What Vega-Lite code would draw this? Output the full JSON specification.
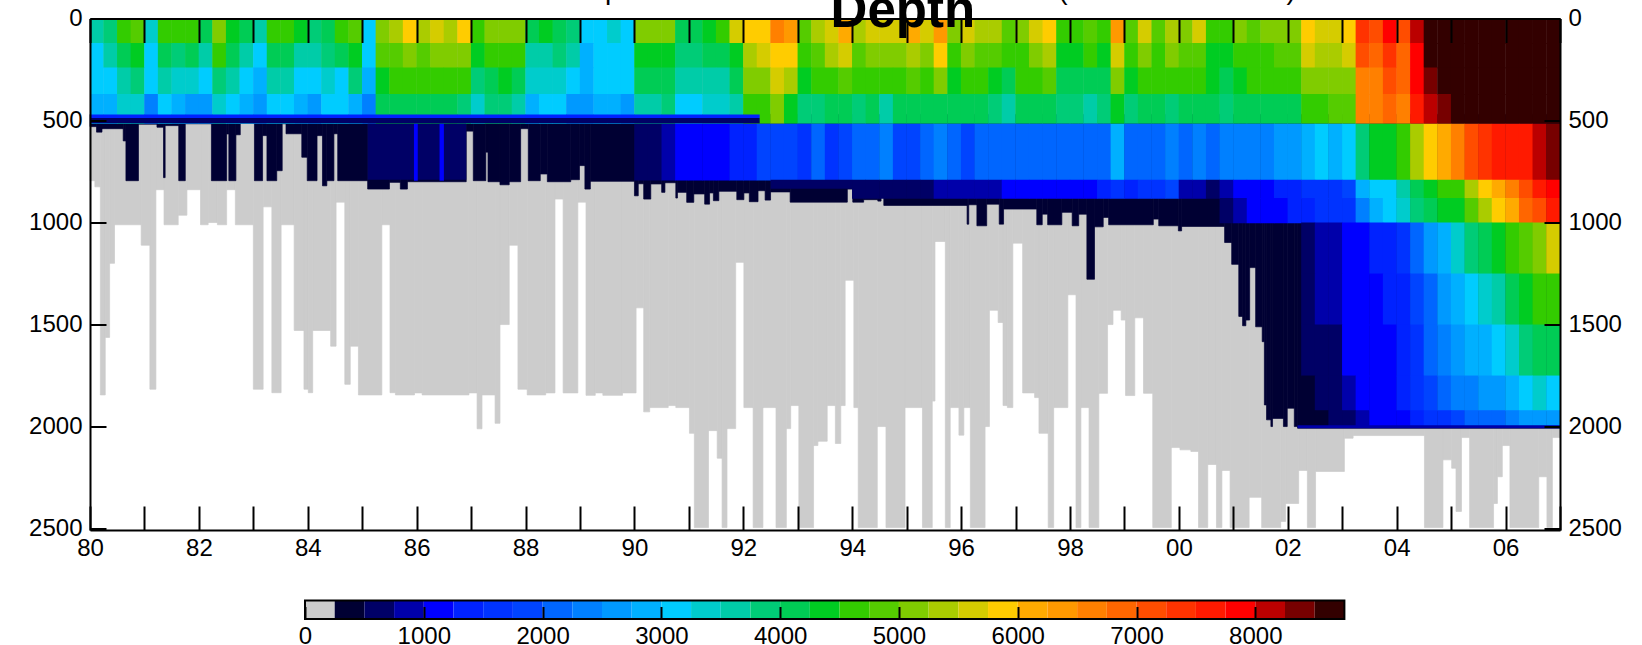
{"$schema":"https://vega.github.io/schema/vega-lite/v6.json","autosize":"none","width":1470,"height":511.5,"padding":{"left":90,"top":18.5,"right":82,"bottom":115},"background":"white","config":{"view":{"stroke":null},"axis":{"grid":false,"domainColor":"black","domainWidth":2,"tickColor":"black","tickWidth":2,"labelColor":"black","labelFont":"Liberation Sans","labelFontSize":24,"labelOverlap":false,"labelFlush":false,"labelBound":false,"title":null}},
"datasets":{
"gray":[{"x":80,"x2":80.09,"d":795},{"x":80.09,"x2":80.19,"d":825},{"x":80.19,"x2":80.28,"d":1845},{"x":80.28,"x2":80.36,"d":1563},{"x":80.36,"x2":80.45,"d":1200},{"x":80.45,"x2":80.94,"d":1011},{"x":80.94,"x2":81.1,"d":1111},{"x":81.1,"x2":81.21,"d":1817},{"x":81.21,"x2":81.36,"d":839},{"x":81.36,"x2":81.62,"d":1011},{"x":81.62,"x2":81.78,"d":964},{"x":81.78,"x2":82.03,"d":839},{"x":82.03,"x2":82.17,"d":1011},{"x":82.17,"x2":82.34,"d":1000},{"x":82.34,"x2":82.51,"d":1011},{"x":82.51,"x2":82.67,"d":839},{"x":82.67,"x2":83,"d":1011},{"x":83,"x2":83.18,"d":1817},{"x":83.18,"x2":83.34,"d":923},{"x":83.34,"x2":83.51,"d":1834},{"x":83.51,"x2":83.75,"d":1011},{"x":83.75,"x2":83.93,"d":1529},{"x":83.93,"x2":84.01,"d":1817},{"x":84.01,"x2":84.09,"d":1834},{"x":84.09,"x2":84.42,"d":1529},{"x":84.42,"x2":84.52,"d":1606},{"x":84.52,"x2":84.68,"d":900},{"x":84.68,"x2":84.78,"d":1793},{"x":84.78,"x2":84.93,"d":1606},{"x":84.93,"x2":85.36,"d":1845},{"x":85.36,"x2":85.51,"d":1011},{"x":85.51,"x2":85.61,"d":1834},{"x":85.61,"x2":85.96,"d":1845},{"x":85.96,"x2":86.1,"d":1835},{"x":86.1,"x2":86.96,"d":1845},{"x":86.96,"x2":87.11,"d":1835},{"x":87.11,"x2":87.2,"d":2011},{"x":87.2,"x2":87.44,"d":1845},{"x":87.44,"x2":87.53,"d":1984},{"x":87.53,"x2":87.7,"d":1500},{"x":87.7,"x2":87.86,"d":1111},{"x":87.86,"x2":88.03,"d":1817},{"x":88.03,"x2":88.37,"d":1845},{"x":88.37,"x2":88.54,"d":1835},{"x":88.54,"x2":88.69,"d":885},{"x":88.69,"x2":88.96,"d":1835},{"x":88.96,"x2":89.11,"d":900},{"x":89.11,"x2":89.28,"d":1847},{"x":89.28,"x2":89.42,"d":1835},{"x":89.42,"x2":89.78,"d":1847},{"x":89.78,"x2":90.03,"d":1835},{"x":90.03,"x2":90.17,"d":1418},{"x":90.17,"x2":90.28,"d":1928},{"x":90.28,"x2":90.62,"d":1907},{"x":90.62,"x2":90.76,"d":1897},{"x":90.76,"x2":91.01,"d":1907},{"x":91.01,"x2":91.1,"d":2033},{"x":91.1,"x2":91.36,"d":2495},{"x":91.36,"x2":91.52,"d":2020},{"x":91.52,"x2":91.61,"d":2155},{"x":91.61,"x2":91.7,"d":2495},{"x":91.7,"x2":91.86,"d":2010},{"x":91.86,"x2":92.01,"d":1195},{"x":92.01,"x2":92.18,"d":1907},{"x":92.18,"x2":92.36,"d":2495},{"x":92.36,"x2":92.6,"d":1907},{"x":92.6,"x2":92.79,"d":2495},{"x":92.79,"x2":92.87,"d":2010},{"x":92.87,"x2":93.02,"d":1897},{"x":93.02,"x2":93.29,"d":2495},{"x":93.29,"x2":93.37,"d":2093},{"x":93.37,"x2":93.54,"d":2072},{"x":93.54,"x2":93.69,"d":1897},{"x":93.69,"x2":93.79,"d":2083},{"x":93.79,"x2":93.87,"d":1897},{"x":93.87,"x2":94.03,"d":1283},{"x":94.03,"x2":94.11,"d":1907},{"x":94.11,"x2":94.46,"d":2495},{"x":94.46,"x2":94.62,"d":2000},{"x":94.62,"x2":94.97,"d":2495},{"x":94.97,"x2":95.29,"d":1907},{"x":95.29,"x2":95.47,"d":2495},{"x":95.47,"x2":95.52,"d":1875},{"x":95.52,"x2":95.71,"d":1093},{"x":95.71,"x2":95.8,"d":2495},{"x":95.8,"x2":95.96,"d":1907},{"x":95.96,"x2":96.05,"d":2042},{"x":96.05,"x2":96.17,"d":1907},{"x":96.17,"x2":96.44,"d":2495},{"x":96.44,"x2":96.52,"d":2000},{"x":96.52,"x2":96.68,"d":1430},{"x":96.68,"x2":96.77,"d":1490},{"x":96.77,"x2":96.85,"d":1897},{"x":96.85,"x2":96.95,"d":1907},{"x":96.95,"x2":97.13,"d":1101},{"x":97.13,"x2":97.35,"d":1835},{"x":97.35,"x2":97.43,"d":1858},{"x":97.43,"x2":97.6,"d":2033},{"x":97.6,"x2":97.7,"d":2495},{"x":97.7,"x2":97.96,"d":1907},{"x":97.96,"x2":98.11,"d":1354},{"x":98.11,"x2":98.2,"d":2495},{"x":98.2,"x2":98.35,"d":1907},{"x":98.35,"x2":98.53,"d":2495},{"x":98.53,"x2":98.69,"d":1837},{"x":98.69,"x2":98.79,"d":1500},{"x":98.79,"x2":98.94,"d":1430},{"x":98.94,"x2":99.02,"d":1478},{"x":99.02,"x2":99.19,"d":1848},{"x":99.19,"x2":99.35,"d":1467},{"x":99.35,"x2":99.52,"d":1837},{"x":99.52,"x2":99.86,"d":2495},{"x":99.86,"x2":100.02,"d":2103},{"x":100.02,"x2":100.22,"d":2114},{"x":100.22,"x2":100.36,"d":2122},{"x":100.36,"x2":100.53,"d":2495},{"x":100.53,"x2":100.69,"d":2186},{"x":100.69,"x2":100.79,"d":2495},{"x":100.79,"x2":100.94,"d":2215},{"x":100.94,"x2":101.29,"d":2495},{"x":101.29,"x2":101.52,"d":2347},{"x":101.52,"x2":101.87,"d":2495},{"x":101.87,"x2":101.96,"d":2465},{"x":101.96,"x2":102.2,"d":2377},{"x":102.2,"x2":102.36,"d":2215},{"x":102.36,"x2":102.51,"d":2495},{"x":102.51,"x2":103.04,"d":2220},{"x":103.04,"x2":103.2,"d":2057},{"x":103.2,"x2":104.51,"d":2044},{"x":104.51,"x2":104.85,"d":2495},{"x":104.85,"x2":105.01,"d":2163},{"x":105.01,"x2":105.09,"d":2204},{"x":105.09,"x2":105.19,"d":2416},{"x":105.19,"x2":105.34,"d":2054},{"x":105.34,"x2":105.78,"d":2495},{"x":105.78,"x2":105.85,"d":2377},{"x":105.85,"x2":105.94,"d":2246},{"x":105.94,"x2":106.08,"d":2093},{"x":106.08,"x2":106.61,"d":2495},{"x":106.61,"x2":106.76,"d":2246},{"x":106.76,"x2":106.86,"d":2495},{"x":106.86,"x2":107,"d":2054}],
"navy":[{"x":80,"x2":80.12,"d":530},{"x":80.12,"x2":80.22,"d":557},{"x":80.22,"x2":80.61,"d":540},{"x":80.61,"x2":80.66,"d":600},{"x":80.66,"x2":80.89,"d":795},{"x":80.89,"x2":81.23,"d":518},{"x":81.23,"x2":81.35,"d":533},{"x":81.35,"x2":81.38,"d":780},{"x":81.38,"x2":81.63,"d":525},{"x":81.63,"x2":81.75,"d":795},{"x":81.75,"x2":82.23,"d":516},{"x":82.23,"x2":82.51,"d":795},{"x":82.51,"x2":82.55,"d":566},{"x":82.55,"x2":82.68,"d":795},{"x":82.68,"x2":82.76,"d":570},{"x":82.76,"x2":83.02,"d":513},{"x":83.02,"x2":83.17,"d":795},{"x":83.17,"x2":83.25,"d":574},{"x":83.25,"x2":83.43,"d":795},{"x":83.43,"x2":83.53,"d":746},{"x":83.53,"x2":83.6,"d":516},{"x":83.6,"x2":83.89,"d":565},{"x":83.89,"x2":83.99,"d":680},{"x":83.99,"x2":84.17,"d":795},{"x":84.17,"x2":84.27,"d":574},{"x":84.27,"x2":84.35,"d":820},{"x":84.35,"x2":84.48,"d":795},{"x":84.48,"x2":84.55,"d":565},{"x":84.55,"x2":85.1,"d":795},{"x":85.1,"x2":85.5,"d":836},{"x":85.5,"x2":85.7,"d":803},{"x":85.7,"x2":85.83,"d":836},{"x":85.83,"x2":86.91,"d":800},{"x":86.91,"x2":87.04,"d":552},{"x":87.04,"x2":87.27,"d":795},{"x":87.27,"x2":87.31,"d":655},{"x":87.31,"x2":87.53,"d":800},{"x":87.53,"x2":87.7,"d":815},{"x":87.7,"x2":87.91,"d":800},{"x":87.91,"x2":88.05,"d":540},{"x":88.05,"x2":88.27,"d":795},{"x":88.27,"x2":88.4,"d":762},{"x":88.4,"x2":88.83,"d":800},{"x":88.83,"x2":88.99,"d":790},{"x":88.99,"x2":89.09,"d":721},{"x":89.09,"x2":89.19,"d":836},{"x":89.19,"x2":90,"d":798},{"x":90,"x2":90.07,"d":869},{"x":90.07,"x2":90.17,"d":810},{"x":90.17,"x2":90.3,"d":885},{"x":90.3,"x2":90.5,"d":811},{"x":90.5,"x2":90.56,"d":852},{"x":90.56,"x2":90.76,"d":805},{"x":90.76,"x2":90.79,"d":880},{"x":90.79,"x2":90.96,"d":852},{"x":90.96,"x2":91.09,"d":901},{"x":91.09,"x2":91.29,"d":860},{"x":91.29,"x2":91.38,"d":910},{"x":91.38,"x2":91.45,"d":855},{"x":91.45,"x2":91.55,"d":893},{"x":91.55,"x2":91.88,"d":847},{"x":91.88,"x2":92.01,"d":888},{"x":92.01,"x2":92.11,"d":855},{"x":92.11,"x2":92.27,"d":898},{"x":92.27,"x2":92.4,"d":844},{"x":92.4,"x2":92.5,"d":890},{"x":92.5,"x2":92.86,"d":850},{"x":92.86,"x2":93.91,"d":900},{"x":93.91,"x2":94.01,"d":836},{"x":94.01,"x2":94.21,"d":900},{"x":94.21,"x2":94.47,"d":888},{"x":94.47,"x2":94.53,"d":895},{"x":94.53,"x2":94.58,"d":803},{"x":94.58,"x2":96.11,"d":916},{"x":96.11,"x2":96.14,"d":1008},{"x":96.14,"x2":96.29,"d":913},{"x":96.29,"x2":96.47,"d":1016},{"x":96.47,"x2":96.7,"d":910},{"x":96.7,"x2":96.78,"d":1008},{"x":96.78,"x2":97.39,"d":934},{"x":97.39,"x2":97.49,"d":1011},{"x":97.49,"x2":97.59,"d":959},{"x":97.59,"x2":97.85,"d":1011},{"x":97.85,"x2":98.04,"d":950},{"x":98.04,"x2":98.16,"d":1016},{"x":98.16,"x2":98.31,"d":959},{"x":98.31,"x2":98.45,"d":1278},{"x":98.45,"x2":98.61,"d":1021},{"x":98.61,"x2":98.71,"d":975},{"x":98.71,"x2":99.53,"d":1011},{"x":99.53,"x2":99.63,"d":983},{"x":99.63,"x2":99.99,"d":1016},{"x":99.99,"x2":100.05,"d":1041},{"x":100.05,"x2":100.84,"d":1019},{"x":100.84,"x2":100.97,"d":1098},{"x":100.97,"x2":101.1,"d":1205},{"x":101.1,"x2":101.17,"d":1460},{"x":101.17,"x2":101.23,"d":1506},{"x":101.23,"x2":101.3,"d":1478},{"x":101.3,"x2":101.41,"d":1221},{"x":101.41,"x2":101.53,"d":1511},{"x":101.53,"x2":101.57,"d":1584},{"x":101.57,"x2":101.61,"d":1894},{"x":101.61,"x2":101.69,"d":1967},{"x":101.69,"x2":101.72,"d":2000},{"x":101.72,"x2":101.92,"d":1960},{"x":101.92,"x2":101.99,"d":2000},{"x":101.99,"x2":102.12,"d":1910},{"x":102.12,"x2":102.18,"d":2000},{"x":102.18,"x2":107,"d":2008}],
"a":[{"x":80.125,"v":3600},{"x":80.375,"v":3900},{"x":80.625,"v":4500},{"x":80.875,"v":4900},{"x":81.125,"v":3400},{"x":81.375,"v":4500},{"x":81.625,"v":4500},{"x":81.875,"v":4700},{"x":82.125,"v":4000},{"x":82.375,"v":5000},{"x":82.625,"v":4400},{"x":82.875,"v":4200},{"x":83.125,"v":3500},{"x":83.375,"v":4500},{"x":83.625,"v":4500},{"x":83.875,"v":4300},{"x":84.125,"v":3800},{"x":84.375,"v":4200},{"x":84.625,"v":4600},{"x":84.875,"v":4900},{"x":85.125,"v":3200},{"x":85.375,"v":5200},{"x":85.625,"v":5400},{"x":85.875,"v":5800},{"x":86.125,"v":5300},{"x":86.375,"v":5600},{"x":86.625,"v":5400},{"x":86.875,"v":5800},{"x":87.125,"v":4500},{"x":87.375,"v":5100},{"x":87.625,"v":5200},{"x":87.875,"v":5100},{"x":88.125,"v":4200},{"x":88.375,"v":4300},{"x":88.625,"v":4200},{"x":88.875,"v":3900},{"x":89.125,"v":3100},{"x":89.375,"v":3200},{"x":89.625,"v":3300},{"x":89.875,"v":3100},{"x":90.125,"v":5000},{"x":90.375,"v":5000},{"x":90.625,"v":5200},{"x":90.875,"v":4000},{"x":91.125,"v":4200},{"x":91.375,"v":4400},{"x":91.625,"v":4500},{"x":91.875,"v":5500},{"x":92.125,"v":5800},{"x":92.375,"v":5900},{"x":92.625,"v":6500},{"x":92.875,"v":6400},{"x":93.125,"v":4800},{"x":93.375,"v":5300},{"x":93.625,"v":5600},{"x":93.875,"v":6000},{"x":94.125,"v":5400},{"x":94.375,"v":5700},{"x":94.625,"v":5600},{"x":94.875,"v":5600},{"x":95.125,"v":6000},{"x":95.375,"v":5600},{"x":95.625,"v":6300},{"x":95.875,"v":5200},{"x":96.125,"v":5500},{"x":96.375,"v":5300},{"x":96.625,"v":5300},{"x":96.875,"v":4900},{"x":97.125,"v":5000},{"x":97.375,"v":5600},{"x":97.625,"v":5900},{"x":97.875,"v":4500},{"x":98.125,"v":4700},{"x":98.375,"v":4800},{"x":98.625,"v":4500},{"x":98.875,"v":6300},{"x":99.125,"v":4800},{"x":99.375,"v":5600},{"x":99.625,"v":4900},{"x":99.875,"v":5300},{"x":100.125,"v":5200},{"x":100.375,"v":5500},{"x":100.625,"v":4600},{"x":100.875,"v":4600},{"x":101.125,"v":5000},{"x":101.375,"v":4900},{"x":101.625,"v":5000},{"x":101.875,"v":5200},{"x":102.125,"v":5100},{"x":102.375,"v":5900},{"x":102.625,"v":5700},{"x":102.875,"v":5700},{"x":103.125,"v":5900},{"x":103.375,"v":7400},{"x":103.625,"v":7000},{"x":103.875,"v":7800},{"x":104.125,"v":7200},{"x":104.375,"v":8200},{"x":104.625,"v":8700},{"x":104.875,"v":8700},{"x":105.125,"v":8700},{"x":105.375,"v":8700},{"x":105.625,"v":8700},{"x":105.875,"v":8700},{"x":106.125,"v":8700},{"x":106.375,"v":8700},{"x":106.625,"v":8700},{"x":106.875,"v":8700}],
"b":[{"x":80.125,"v":3200},{"x":80.375,"v":3500},{"x":80.625,"v":4200},{"x":80.875,"v":4400},{"x":81.125,"v":3100},{"x":81.375,"v":4000},{"x":81.625,"v":3900},{"x":81.875,"v":4200},{"x":82.125,"v":3600},{"x":82.375,"v":4500},{"x":82.625,"v":4100},{"x":82.875,"v":3700},{"x":83.125,"v":3100},{"x":83.375,"v":4200},{"x":83.625,"v":4200},{"x":83.875,"v":3700},{"x":84.125,"v":3600},{"x":84.375,"v":3800},{"x":84.625,"v":4000},{"x":84.875,"v":4400},{"x":85.125,"v":3000},{"x":85.375,"v":4800},{"x":85.625,"v":4900},{"x":85.875,"v":5200},{"x":86.125,"v":4900},{"x":86.375,"v":5200},{"x":86.625,"v":5000},{"x":86.875,"v":5200},{"x":87.125,"v":4300},{"x":87.375,"v":4500},{"x":87.625,"v":4700},{"x":87.875,"v":4600},{"x":88.125,"v":3700},{"x":88.375,"v":3700},{"x":88.625,"v":3800},{"x":88.875,"v":3500},{"x":89.125,"v":2900},{"x":89.375,"v":3000},{"x":89.625,"v":3100},{"x":89.875,"v":3000},{"x":90.125,"v":4300},{"x":90.375,"v":4300},{"x":90.625,"v":4400},{"x":90.875,"v":3800},{"x":91.125,"v":3800},{"x":91.375,"v":4000},{"x":91.625,"v":4000},{"x":91.875,"v":4300},{"x":92.125,"v":5300},{"x":92.375,"v":5500},{"x":92.625,"v":5900},{"x":92.875,"v":5800},{"x":93.125,"v":4600},{"x":93.375,"v":4800},{"x":93.625,"v":5300},{"x":93.875,"v":5500},{"x":94.125,"v":4900},{"x":94.375,"v":5200},{"x":94.625,"v":5100},{"x":94.875,"v":5100},{"x":95.125,"v":5400},{"x":95.375,"v":5000},{"x":95.625,"v":5800},{"x":95.875,"v":4700},{"x":96.125,"v":5000},{"x":96.375,"v":4900},{"x":96.625,"v":4900},{"x":96.875,"v":4600},{"x":97.125,"v":4700},{"x":97.375,"v":5200},{"x":97.625,"v":5400},{"x":97.875,"v":4400},{"x":98.125,"v":4400},{"x":98.375,"v":4500},{"x":98.625,"v":4400},{"x":98.875,"v":5700},{"x":99.125,"v":4500},{"x":99.375,"v":5100},{"x":99.625,"v":4700},{"x":99.875,"v":5100},{"x":100.125,"v":4900},{"x":100.375,"v":4900},{"x":100.625,"v":4400},{"x":100.875,"v":4400},{"x":101.125,"v":4700},{"x":101.375,"v":4700},{"x":101.625,"v":4700},{"x":101.875,"v":4900},{"x":102.125,"v":4900},{"x":102.375,"v":5600},{"x":102.625,"v":5400},{"x":102.875,"v":5400},{"x":103.125,"v":5700},{"x":103.375,"v":7000},{"x":103.625,"v":6800},{"x":103.875,"v":7400},{"x":104.125,"v":6900},{"x":104.375,"v":7800},{"x":104.625,"v":8600},{"x":104.875,"v":8700},{"x":105.125,"v":8700},{"x":105.375,"v":8700},{"x":105.625,"v":8700},{"x":105.875,"v":8700},{"x":106.125,"v":8700},{"x":106.375,"v":8700},{"x":106.625,"v":8700},{"x":106.875,"v":8700}],
"c":[{"x":80.125,"v":3100},{"x":80.375,"v":3100},{"x":80.625,"v":3700},{"x":80.875,"v":3800},{"x":81.125,"v":3000},{"x":81.375,"v":3500},{"x":81.625,"v":3300},{"x":81.875,"v":3400},{"x":82.125,"v":3000},{"x":82.375,"v":3800},{"x":82.625,"v":3500},{"x":82.875,"v":3200},{"x":83.125,"v":2900},{"x":83.375,"v":3700},{"x":83.625,"v":3500},{"x":83.875,"v":3100},{"x":84.125,"v":3100},{"x":84.375,"v":3300},{"x":84.625,"v":3200},{"x":84.875,"v":3800},{"x":85.125,"v":2800},{"x":85.375,"v":4400},{"x":85.625,"v":4500},{"x":85.875,"v":4700},{"x":86.125,"v":4500},{"x":86.375,"v":4500},{"x":86.625,"v":4500},{"x":86.875,"v":4500},{"x":87.125,"v":3900},{"x":87.375,"v":4100},{"x":87.625,"v":4300},{"x":87.875,"v":4200},{"x":88.125,"v":3300},{"x":88.375,"v":3300},{"x":88.625,"v":3400},{"x":88.875,"v":3100},{"x":89.125,"v":2800},{"x":89.375,"v":3000},{"x":89.625,"v":3000},{"x":89.875,"v":3000},{"x":90.125,"v":4100},{"x":90.375,"v":4100},{"x":90.625,"v":4100},{"x":90.875,"v":3500},{"x":91.125,"v":3500},{"x":91.375,"v":3700},{"x":91.625,"v":3700},{"x":91.875,"v":4000},{"x":92.125,"v":5000},{"x":92.375,"v":5000},{"x":92.625,"v":5500},{"x":92.875,"v":5300},{"x":93.125,"v":4400},{"x":93.375,"v":4500},{"x":93.625,"v":4700},{"x":93.875,"v":4800},{"x":94.125,"v":4500},{"x":94.375,"v":4600},{"x":94.625,"v":4500},{"x":94.875,"v":4700},{"x":95.125,"v":4800},{"x":95.375,"v":4600},{"x":95.625,"v":5200},{"x":95.875,"v":4400},{"x":96.125,"v":4600},{"x":96.375,"v":4500},{"x":96.625,"v":4400},{"x":96.875,"v":4200},{"x":97.125,"v":4500},{"x":97.375,"v":4700},{"x":97.625,"v":4900},{"x":97.875,"v":4200},{"x":98.125,"v":4100},{"x":98.375,"v":4200},{"x":98.625,"v":4200},{"x":98.875,"v":5200},{"x":99.125,"v":4300},{"x":99.375,"v":4500},{"x":99.625,"v":4500},{"x":99.875,"v":4600},{"x":100.125,"v":4500},{"x":100.375,"v":4500},{"x":100.625,"v":4300},{"x":100.875,"v":4200},{"x":101.125,"v":4400},{"x":101.375,"v":4500},{"x":101.625,"v":4500},{"x":101.875,"v":4500},{"x":102.125,"v":4600},{"x":102.375,"v":5200},{"x":102.625,"v":5000},{"x":102.875,"v":5200},{"x":103.125,"v":5200},{"x":103.375,"v":6700},{"x":103.625,"v":6500},{"x":103.875,"v":7000},{"x":104.125,"v":6800},{"x":104.375,"v":7800},{"x":104.625,"v":8400},{"x":104.875,"v":8700},{"x":105.125,"v":8700},{"x":105.375,"v":8700},{"x":105.625,"v":8700},{"x":105.875,"v":8700},{"x":106.125,"v":8700},{"x":106.375,"v":8700},{"x":106.625,"v":8700},{"x":106.875,"v":8700}],
"d":[{"x":80.125,"v":2800},{"x":80.375,"v":2900},{"x":80.625,"v":3300},{"x":80.875,"v":3400},{"x":81.125,"v":2400},{"x":81.375,"v":3000},{"x":81.625,"v":2800},{"x":81.875,"v":2700},{"x":82.125,"v":2500},{"x":82.375,"v":3300},{"x":82.625,"v":3100},{"x":82.875,"v":2900},{"x":83.125,"v":2700},{"x":83.375,"v":3200},{"x":83.625,"v":3100},{"x":83.875,"v":2800},{"x":84.125,"v":2600},{"x":84.375,"v":3100},{"x":84.625,"v":3000},{"x":84.875,"v":2800},{"x":85.125,"v":2300},{"x":85.375,"v":4000},{"x":85.625,"v":4200},{"x":85.875,"v":4200},{"x":86.125,"v":4000},{"x":86.375,"v":4100},{"x":86.625,"v":4200},{"x":86.875,"v":3800},{"x":87.125,"v":3300},{"x":87.375,"v":3800},{"x":87.625,"v":3900},{"x":87.875,"v":3700},{"x":88.125,"v":2900},{"x":88.375,"v":3000},{"x":88.625,"v":3100},{"x":88.875,"v":2700},{"x":89.125,"v":2600},{"x":89.375,"v":2800},{"x":89.625,"v":2800},{"x":89.875,"v":2700},{"x":90.125,"v":3500},{"x":90.375,"v":3600},{"x":90.625,"v":3800},{"x":90.875,"v":3100},{"x":91.125,"v":3200},{"x":91.375,"v":3400},{"x":91.625,"v":3400},{"x":91.875,"v":3700},{"x":92.125,"v":4500},{"x":92.375,"v":4600},{"x":92.625,"v":5000},{"x":92.875,"v":4300},{"x":93.125,"v":3800},{"x":93.375,"v":3900},{"x":93.625,"v":4000},{"x":93.875,"v":4100},{"x":94.125,"v":3900},{"x":94.375,"v":4000},{"x":94.625,"v":3700},{"x":94.875,"v":4100},{"x":95.125,"v":4200},{"x":95.375,"v":4000},{"x":95.625,"v":4200},{"x":95.875,"v":4000},{"x":96.125,"v":4000},{"x":96.375,"v":4000},{"x":96.625,"v":3900},{"x":96.875,"v":3700},{"x":97.125,"v":4000},{"x":97.375,"v":4100},{"x":97.625,"v":4200},{"x":97.875,"v":3900},{"x":98.125,"v":3800},{"x":98.375,"v":3700},{"x":98.625,"v":3800},{"x":98.875,"v":4400},{"x":99.125,"v":3900},{"x":99.375,"v":4100},{"x":99.625,"v":4000},{"x":99.875,"v":3900},{"x":100.125,"v":4100},{"x":100.375,"v":4100},{"x":100.625,"v":4100},{"x":100.875,"v":3900},{"x":101.125,"v":4200},{"x":101.375,"v":4200},{"x":101.625,"v":4200},{"x":101.875,"v":4200},{"x":102.125,"v":4200},{"x":102.375,"v":4500},{"x":102.625,"v":4600},{"x":102.875,"v":4800},{"x":103.125,"v":4800},{"x":103.375,"v":6500},{"x":103.625,"v":6500},{"x":103.875,"v":6800},{"x":104.125,"v":6600},{"x":104.375,"v":7600},{"x":104.625,"v":8100},{"x":104.875,"v":8400},{"x":105.125,"v":8500},{"x":105.375,"v":8700},{"x":105.625,"v":8700},{"x":105.875,"v":8700},{"x":106.125,"v":8700},{"x":106.375,"v":8700},{"x":106.625,"v":8700},{"x":106.875,"v":8700}],
"f":[{"x":90.125,"v":700},{"x":90.375,"v":700},{"x":90.625,"v":800},{"x":90.875,"v":1000},{"x":91.125,"v":1100},{"x":91.375,"v":1100},{"x":91.625,"v":1200},{"x":91.875,"v":1300},{"x":92.125,"v":1300},{"x":92.375,"v":1800},{"x":92.625,"v":1800},{"x":92.875,"v":1900},{"x":93.125,"v":1700},{"x":93.375,"v":2000},{"x":93.625,"v":1700},{"x":93.875,"v":1900},{"x":94.125,"v":2100},{"x":94.375,"v":2100},{"x":94.625,"v":2300},{"x":94.875,"v":1900},{"x":95.125,"v":1900},{"x":95.375,"v":2000},{"x":95.625,"v":2400},{"x":95.875,"v":2100},{"x":96.125,"v":1800},{"x":96.375,"v":2000},{"x":96.625,"v":2100},{"x":96.875,"v":2200},{"x":97.125,"v":2100},{"x":97.375,"v":2000},{"x":97.625,"v":2200},{"x":97.875,"v":2000},{"x":98.125,"v":2000},{"x":98.375,"v":2000},{"x":98.625,"v":2200},{"x":98.875,"v":2900},{"x":99.125,"v":2100},{"x":99.375,"v":2200},{"x":99.625,"v":2000},{"x":99.875,"v":2300},{"x":100.125,"v":2100},{"x":100.375,"v":2300},{"x":100.625,"v":2200},{"x":100.875,"v":2300},{"x":101.125,"v":2400},{"x":101.375,"v":2400},{"x":101.625,"v":2400},{"x":101.875,"v":2500},{"x":102.125,"v":2500},{"x":102.375,"v":2900},{"x":102.625,"v":3100},{"x":102.875,"v":2900},{"x":103.125,"v":3100},{"x":103.375,"v":3900},{"x":103.625,"v":4300},{"x":103.875,"v":4400},{"x":104.125,"v":4600},{"x":104.375,"v":5400},{"x":104.625,"v":5800},{"x":104.875,"v":6100},{"x":105.125,"v":6500},{"x":105.375,"v":7000},{"x":105.625,"v":7300},{"x":105.875,"v":7600},{"x":106.125,"v":7600},{"x":106.375,"v":7700},{"x":106.625,"v":8100},{"x":106.875,"v":8300}],
"g1":[{"x":94.125,"v":600},{"x":94.375,"v":600},{"x":94.625,"v":600},{"x":94.875,"v":700},{"x":95.125,"v":700},{"x":95.375,"v":700},{"x":95.625,"v":800},{"x":95.875,"v":800},{"x":96.125,"v":800},{"x":96.375,"v":800},{"x":96.625,"v":800},{"x":96.875,"v":1000},{"x":97.125,"v":1000},{"x":97.375,"v":1100},{"x":97.625,"v":1100},{"x":97.875,"v":1100},{"x":98.125,"v":1200},{"x":98.375,"v":1200},{"x":98.625,"v":1300},{"x":98.875,"v":1600},{"x":99.125,"v":1300},{"x":99.375,"v":1500},{"x":99.625,"v":1500},{"x":99.875,"v":1800},{"x":100.125,"v":900},{"x":100.375,"v":800},{"x":100.625,"v":700},{"x":100.875,"v":800},{"x":101.125,"v":1000},{"x":101.375,"v":1100},{"x":101.625,"v":1200},{"x":101.875,"v":1300},{"x":102.125,"v":1400},{"x":102.375,"v":1500},{"x":102.625,"v":1700},{"x":102.875,"v":1600},{"x":103.125,"v":1900},{"x":103.375,"v":2800},{"x":103.625,"v":3100},{"x":103.875,"v":3200},{"x":104.125,"v":3500},{"x":104.375,"v":4100},{"x":104.625,"v":4300},{"x":104.875,"v":4500},{"x":105.125,"v":4600},{"x":105.375,"v":5300},{"x":105.625,"v":5800},{"x":105.875,"v":6200},{"x":106.125,"v":6700},{"x":106.375,"v":7000},{"x":106.625,"v":7600},{"x":106.875,"v":7800}],
"g2":[{"x":100.875,"v":700},{"x":101.125,"v":900},{"x":101.375,"v":1000},{"x":101.625,"v":1100},{"x":101.875,"v":1200},{"x":102.125,"v":1300},{"x":102.375,"v":1400},{"x":102.625,"v":1700},{"x":102.875,"v":1500},{"x":103.125,"v":1700},{"x":103.375,"v":2400},{"x":103.625,"v":2800},{"x":103.875,"v":3000},{"x":104.125,"v":3300},{"x":104.375,"v":3800},{"x":104.625,"v":4100},{"x":104.875,"v":4300},{"x":105.125,"v":4400},{"x":105.375,"v":4900},{"x":105.625,"v":5300},{"x":105.875,"v":5800},{"x":106.125,"v":6200},{"x":106.375,"v":6800},{"x":106.625,"v":7200},{"x":106.875,"v":7600}],
"h1":[{"x":102.375,"v":700},{"x":102.625,"v":800},{"x":102.875,"v":800},{"x":103.125,"v":1000},{"x":103.375,"v":1200},{"x":103.625,"v":1300},{"x":103.875,"v":1400},{"x":104.125,"v":1600},{"x":104.375,"v":2100},{"x":104.625,"v":2500},{"x":104.875,"v":2900},{"x":105.125,"v":3300},{"x":105.375,"v":3800},{"x":105.625,"v":4200},{"x":105.875,"v":4400},{"x":106.125,"v":4500},{"x":106.375,"v":4800},{"x":106.625,"v":5100},{"x":106.875,"v":5600}],
"h2":[{"x":102.375,"v":700},{"x":102.625,"v":800},{"x":102.875,"v":800},{"x":103.125,"v":1000},{"x":103.375,"v":1100},{"x":103.625,"v":1200},{"x":103.875,"v":1300},{"x":104.125,"v":1400},{"x":104.375,"v":1900},{"x":104.625,"v":2200},{"x":104.875,"v":2500},{"x":105.125,"v":2900},{"x":105.375,"v":3100},{"x":105.625,"v":3300},{"x":105.875,"v":3700},{"x":106.125,"v":4100},{"x":106.375,"v":4300},{"x":106.625,"v":4500},{"x":106.875,"v":4700}],
"h3":[{"x":102.375,"v":600},{"x":102.625,"v":600},{"x":102.875,"v":600},{"x":103.125,"v":1000},{"x":103.375,"v":1100},{"x":103.625,"v":1100},{"x":103.875,"v":1200},{"x":104.125,"v":1400},{"x":104.375,"v":1700},{"x":104.625,"v":2000},{"x":104.875,"v":2300},{"x":105.125,"v":2600},{"x":105.375,"v":2800},{"x":105.625,"v":2900},{"x":105.875,"v":3100},{"x":106.125,"v":3400},{"x":106.375,"v":3800},{"x":106.625,"v":4200},{"x":106.875,"v":4200}],
"h4":[{"x":102.375,"v":400},{"x":102.625,"v":600},{"x":102.875,"v":600},{"x":103.125,"v":900},{"x":103.375,"v":1100},{"x":103.625,"v":1100},{"x":103.875,"v":1200},{"x":104.125,"v":1400},{"x":104.375,"v":1600},{"x":104.625,"v":1900},{"x":104.875,"v":2000},{"x":105.125,"v":2300},{"x":105.375,"v":2400},{"x":105.625,"v":2600},{"x":105.875,"v":2700},{"x":106.125,"v":2800},{"x":106.375,"v":3100},{"x":106.625,"v":3300},{"x":106.875,"v":3200}],
"h5":[{"x":102.375,"v":300},{"x":102.625,"v":400},{"x":102.875,"v":500},{"x":103.125,"v":700},{"x":103.375,"v":900},{"x":103.625,"v":1000},{"x":103.875,"v":1000},{"x":104.125,"v":1100},{"x":104.375,"v":1300},{"x":104.625,"v":1500},{"x":104.875,"v":1700},{"x":105.125,"v":1900},{"x":105.375,"v":2000},{"x":105.625,"v":2100},{"x":105.875,"v":2200},{"x":106.125,"v":2300},{"x":106.375,"v":2500},{"x":106.625,"v":2500},{"x":106.875,"v":2600}],
"spans":[{"x":80,"x2":92.3,"y":470,"y2":488,"v":1300},{"x":80,"x2":92.3,"y":488,"y2":513,"v":600},{"x":85.1,"x2":86.91,"y":516,"y2":790,"v":600},{"x":85.95,"x2":86.02,"y":516,"y2":795,"v":1100},{"x":86.42,"x2":86.5,"y":516,"y2":795,"v":1000},{"x":92.5,"x2":94,"y":790,"y2":835,"v":600},{"x":102.18,"x2":107,"y":1993,"y2":2008,"v":800}],
"bar":[{"a":0,"b":250,"v":125},{"a":250,"b":500,"v":375},{"a":500,"b":750,"v":625},{"a":750,"b":1000,"v":875},{"a":1000,"b":1250,"v":1125},{"a":1250,"b":1500,"v":1375},{"a":1500,"b":1750,"v":1625},{"a":1750,"b":2000,"v":1875},{"a":2000,"b":2250,"v":2125},{"a":2250,"b":2500,"v":2375},{"a":2500,"b":2750,"v":2625},{"a":2750,"b":3000,"v":2875},{"a":3000,"b":3250,"v":3125},{"a":3250,"b":3500,"v":3375},{"a":3500,"b":3750,"v":3625},{"a":3750,"b":4000,"v":3875},{"a":4000,"b":4250,"v":4125},{"a":4250,"b":4500,"v":4375},{"a":4500,"b":4750,"v":4625},{"a":4750,"b":5000,"v":4875},{"a":5000,"b":5250,"v":5125},{"a":5250,"b":5500,"v":5375},{"a":5500,"b":5750,"v":5625},{"a":5750,"b":6000,"v":5875},{"a":6000,"b":6250,"v":6125},{"a":6250,"b":6500,"v":6375},{"a":6500,"b":6750,"v":6625},{"a":6750,"b":7000,"v":6875},{"a":7000,"b":7250,"v":7125},{"a":7250,"b":7500,"v":7375},{"a":7500,"b":7750,"v":7625},{"a":7750,"b":8000,"v":7875},{"a":8000,"b":8250,"v":8125},{"a":8250,"b":8500,"v":8375},{"a":8500,"b":8750,"v":8625}]
},
"resolve":{"scale":{"x":"independent","y":"independent"},"axis":{"x":"independent","y":"independent"}},
"encoding":{"x":{"field":"x","type":"quantitative","scale":{"domain":[80,107],"nice":false},"axis":null},"color":{"field":"v","type":"quantitative","legend":null,"scale":{"type":"threshold","domain":[250,500,750,1000,1250,1500,1750,2000,2250,2500,2750,3000,3250,3500,3750,4000,4250,4500,4750,5000,5250,5500,5750,6000,6250,6500,6750,7000,7250,7500,7750,8000,8250,8500],"range":["#cccccc","#000033","#000066","#0000aa","#0000ff","#0022ff","#0033ff","#0044ff","#0066ff","#0080ff","#0099ff","#00b0ff","#00ccff","#00cccc","#00cca8","#00cc77","#00cc55","#00cc22","#33cc00","#55cc00","#80cc00","#aacc00","#d5cc00","#ffcc00","#ffaa00","#ff9900","#ff8000","#ff6600","#ff4d00","#ff3300","#ff1a00","#ff0000","#bb0000","#770000","#330000"]}}},
"layer":[
{"data":{"name":"gray"},"mark":{"type":"rect","stroke":"#cccccc","strokeWidth":0.7},"encoding":{"color":{"value":"#cccccc"},"x":{"field":"x","type":"quantitative","scale":{"domain":[80,107],"nice":false},"axis":{"orient":"bottom","zindex":1,"values":[80,81,82,83,84,85,86,87,88,89,90,91,92,93,94,95,96,97,98,99,100,101,102,103,104,105,106,107],"tickSize":-24,"labelPadding":30,"labelExpr":"datum.value%2==0?(datum.value%100<10?'0':'')+(datum.value%100):''"}},"x2":{"field":"x2"},"y":{"field":"d","type":"quantitative","scale":{"domain":[0,2507],"nice":false,"reverse":true},"axis":{"orient":"left","zindex":1,"values":[0,500,1000,1500,2000,2500],"tickSize":-16,"labelPadding":24,"format":"d"}},"y2":{"datum":0}}},
{"data":{"name":"navy"},"mark":{"type":"rect","stroke":"#000033","strokeWidth":0.7},"encoding":{"color":{"value":"#000033"},"x2":{"field":"x2"},"y":{"field":"d","type":"quantitative","scale":{"domain":[0,2507],"nice":false,"reverse":true},"axis":null},"y2":{"datum":470}}},
{"data":{"name":"a"},"mark":{"type":"rect","width":14,"clip":true},"encoding":{"y":{"datum":0,"type":"quantitative","scale":{"domain":[0,2507],"nice":false,"reverse":true},"axis":null},"y2":{"datum":124}}},
{"data":{"name":"b"},"mark":{"type":"rect","width":14,"clip":true},"encoding":{"y":{"datum":120,"type":"quantitative","scale":{"domain":[0,2507],"nice":false,"reverse":true},"axis":null},"y2":{"datum":244}}},
{"data":{"name":"c"},"mark":{"type":"rect","width":14,"clip":true},"encoding":{"y":{"datum":240,"type":"quantitative","scale":{"domain":[0,2507],"nice":false,"reverse":true},"axis":null},"y2":{"datum":374}}},
{"data":{"name":"d"},"mark":{"type":"rect","width":14,"clip":true},"encoding":{"y":{"datum":370,"type":"quantitative","scale":{"domain":[0,2507],"nice":false,"reverse":true},"axis":null},"y2":{"datum":516}}},
{"data":{"name":"f"},"mark":{"type":"rect","width":14,"clip":true},"encoding":{"y":{"datum":516,"type":"quantitative","scale":{"domain":[0,2507],"nice":false,"reverse":true},"axis":null},"y2":{"datum":794}}},
{"data":{"name":"g1"},"mark":{"type":"rect","width":14,"clip":true},"encoding":{"y":{"datum":790,"type":"quantitative","scale":{"domain":[0,2507],"nice":false,"reverse":true},"axis":null},"y2":{"datum":884}}},
{"data":{"name":"g2"},"mark":{"type":"rect","width":14,"clip":true},"encoding":{"y":{"datum":880,"type":"quantitative","scale":{"domain":[0,2507],"nice":false,"reverse":true},"axis":null},"y2":{"datum":1004}}},
{"data":{"name":"h1"},"mark":{"type":"rect","width":14,"clip":true},"encoding":{"y":{"datum":1000,"type":"quantitative","scale":{"domain":[0,2507],"nice":false,"reverse":true},"axis":null},"y2":{"datum":1254}}},
{"data":{"name":"h2"},"mark":{"type":"rect","width":14,"clip":true},"encoding":{"y":{"datum":1250,"type":"quantitative","scale":{"domain":[0,2507],"nice":false,"reverse":true},"axis":null},"y2":{"datum":1504}}},
{"data":{"name":"h3"},"mark":{"type":"rect","width":14,"clip":true},"encoding":{"y":{"datum":1500,"type":"quantitative","scale":{"domain":[0,2507],"nice":false,"reverse":true},"axis":null},"y2":{"datum":1754}}},
{"data":{"name":"h4"},"mark":{"type":"rect","width":14,"clip":true},"encoding":{"y":{"datum":1750,"type":"quantitative","scale":{"domain":[0,2507],"nice":false,"reverse":true},"axis":null},"y2":{"datum":1924}}},
{"data":{"name":"h5"},"mark":{"type":"rect","width":14,"clip":true},"encoding":{"y":{"datum":1920,"type":"quantitative","scale":{"domain":[0,2507],"nice":false,"reverse":true},"axis":null},"y2":{"datum":2005}}},
{"data":{"name":"spans"},"mark":{"type":"rect"},"encoding":{"x2":{"field":"x2"},"y":{"field":"y","type":"quantitative","scale":{"domain":[0,2507],"nice":false,"reverse":true},"axis":null},"y2":{"field":"y2"}}},
{"data":{"values":[{"x":94.93,"y":42,"t":"Depth"}]},"mark":{"type":"text","font":"Liberation Sans","fontWeight":"bold","fontSize":51,"baseline":"alphabetic"},"encoding":{"color":{"value":"black"},"x":{"field":"x","type":"quantitative","scale":{"domain":[80,107],"nice":false},"axis":{"orient":"top","zindex":1,"values":[80,81,82,83,84,85,86,87,88,89,90,91,92,93,94,95,96,97,98,99,100,101,102,103,104,105,106,107],"tickSize":-24,"labels":false}},"y":{"field":"y","type":"quantitative","scale":{"domain":[0,2507],"nice":false,"reverse":true},"axis":{"orient":"right","zindex":1,"values":[0,500,1000,1500,2000,2500],"tickSize":-16,"labelPadding":24,"format":"d"}},"text":{"field":"t","type":"nominal"}}},
{"data":{"values":[{"x":89.6,"y":-96,"t":"p"},{"x":97.87,"y":-96,"t":"("},{"x":102.06,"y":-96,"t":")"}]},"mark":{"type":"text","font":"Liberation Sans","fontSize":28,"baseline":"alphabetic"},"encoding":{"color":{"value":"black"},"y":{"field":"y","type":"quantitative","scale":{"domain":[0,2507],"nice":false,"reverse":true},"axis":null},"text":{"field":"t","type":"nominal"}}},
{"data":{"name":"bar"},"mark":{"type":"rect"},"encoding":{"x":{"field":"a","type":"quantitative","scale":{"domain":[-1810,10565],"nice":false},"axis":{"orient":"bottom","offset":88.5,"domain":false,"zindex":1,"values":[0,1000,2000,3000,4000,5000,6000,7000,8000],"tickSize":-12,"labelPadding":18,"format":"d"}},"x2":{"field":"b"},"y":{"datum":-0.138,"type":"quantitative","scale":{"domain":[0,1],"nice":false},"axis":null},"y2":{"datum":-0.174}}},
{"data":{"values":[{"a":0,"b":8750}]},"mark":{"type":"rect","fillOpacity":0,"stroke":"black","strokeWidth":2},"encoding":{"color":{"value":"black"},"x":{"field":"a","type":"quantitative","scale":{"domain":[-1810,10565],"nice":false},"axis":null},"x2":{"field":"b"},"y":{"datum":-0.138,"type":"quantitative","scale":{"domain":[0,1],"nice":false},"axis":null},"y2":{"datum":-0.174}}}
]}
